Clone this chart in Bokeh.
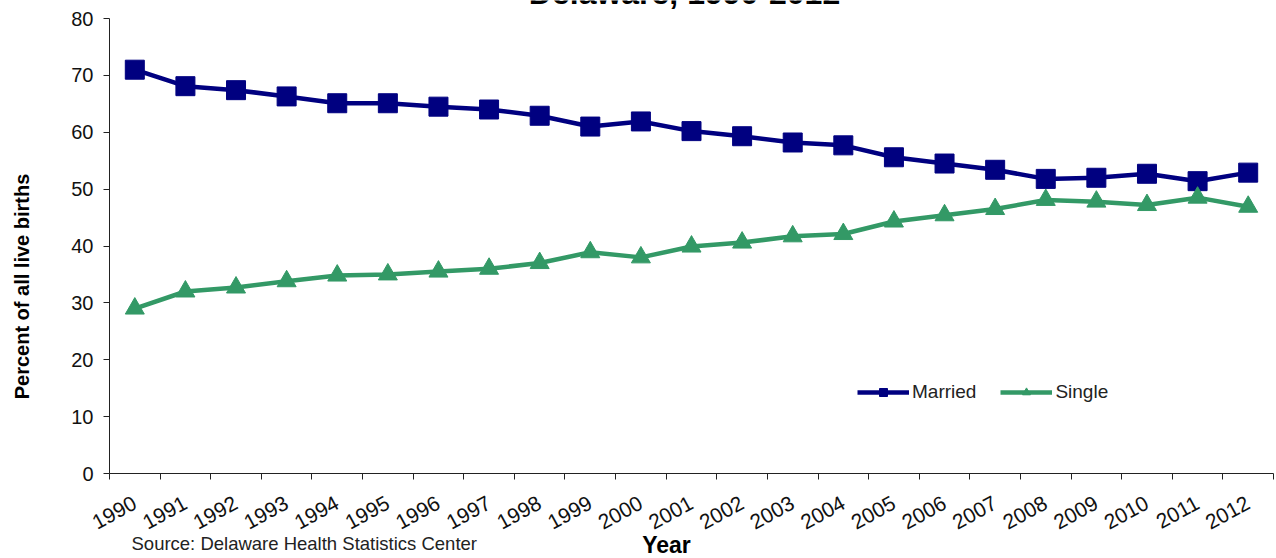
import numpy as np
from bokeh.plotting import figure
from bokeh.models import FixedTicker, Range1d, Label, Legend, LegendItem
from bokeh.embed import file_html
from bokeh.resources import INLINE

years = [str(y) for y in range(1990, 2013)]
married = [71.0, 68.1, 67.4, 66.3, 65.1, 65.1, 64.5, 64.0, 62.9, 61.0, 61.9, 60.2,
           59.3, 58.2, 57.7, 55.6, 54.5, 53.4, 51.8, 52.0, 52.7, 51.4, 52.9]
single = [29.0, 32.0, 32.7, 33.8, 34.8, 35.0, 35.5, 36.0, 37.0, 38.9, 38.0, 39.9,
          40.6, 41.7, 42.1, 44.3, 45.4, 46.5, 48.1, 47.8, 47.2, 48.5, 46.9]
yticks = [0, 10, 20, 30, 40, 50, 60, 70, 80]

n = len(years)
xs = np.arange(n) + 0.5

W, H = 1276, 558
# plot-area geometry (pixels in the canvas)
L, R, T, B = 109, 1273, 18, 473
kx = (R - L) / n
ky = (B - T) / 80.0

p = figure(width=W, height=H, output_backend="svg", toolbar_location=None,
           x_range=Range1d(-L / kx, n + (W - R) / kx),
           y_range=Range1d(-(H - B) / ky, 80 + T / ky),
           min_border_left=0, min_border_right=0, min_border_top=0, min_border_bottom=0)
p.margin = 0
p.outline_line_color = None
p.grid.visible = False
p.background_fill_color = "white"
p.border_fill_color = "white"

FONT = "Liberation Sans"

# x axis
p.xaxis.fixed_location = 0
p.xaxis.bounds = (0, n)
p.xaxis.ticker = FixedTicker(ticks=list(xs), minor_ticks=list(range(n + 1)))
p.xaxis.major_label_overrides = {float(x): y for x, y in zip(xs, years)}
p.xaxis.major_tick_out = 0
p.xaxis.major_tick_in = 0
p.xaxis.minor_tick_out = 6
p.xaxis.minor_tick_in = 0
p.xaxis.major_label_orientation = 0.5
p.xaxis.major_label_standoff = 22
p.xaxis.major_label_text_font = FONT
p.xaxis.major_label_text_font_size = "21px"
p.xaxis.major_label_text_color = "#111111"
p.xaxis.axis_line_color = "#222222"
p.xaxis.minor_tick_line_color = "#222222"

# y axis
p.yaxis.fixed_location = 0
p.yaxis.bounds = (0, 80)
p.yaxis.ticker = FixedTicker(ticks=yticks, minor_ticks=[])
p.yaxis.major_tick_out = 6
p.yaxis.major_tick_in = 0
p.yaxis.minor_tick_out = 0
p.yaxis.major_label_standoff = 10
p.yaxis.major_label_text_font = FONT
p.yaxis.major_label_text_font_size = "20px"
p.yaxis.major_label_text_color = "#111111"
p.yaxis.axis_line_color = "#222222"
p.yaxis.major_tick_line_color = "#222222"

NAVY = "#000080"
GREEN = "#339966"

l1 = p.line(xs, married, line_color=NAVY, line_width=4.5)
s1 = p.scatter(xs, married, marker="square", size=19, fill_color=NAVY, line_color=NAVY)
l2 = p.line(xs, single, line_color=GREEN, line_width=4.5)
s2 = p.scatter(xs, single, marker="triangle", size=19, fill_color=GREEN, line_color=GREEN)

legend = Legend(items=[LegendItem(label="Married", renderers=[l1, s1]),
                       LegendItem(label="Single", renderers=[l2, s2])],
                orientation="horizontal", location=(857, H - 403),
                border_line_color=None, background_fill_alpha=0,
                padding=0, margin=0, spacing=24, glyph_width=52, glyph_height=20,
                label_standoff=3, label_text_font=FONT, label_text_font_size="19px",
                label_text_color="#222222", label_height=20)
p.add_layout(legend, "center")

p.add_layout(Label(x=(684 - L) / kx, y=80 + (T - 10.5) / ky,
                   text="Delaware, 1990-2012", text_font=FONT,
                   text_font_size="32px", text_font_style="bold", text_align="center",
                   text_baseline="bottom", text_color="black"))
p.add_layout(Label(x=(21 - L) / kx, y=(B - 286) / ky,
                   text="Percent of all live births", angle=np.pi / 2,
                   text_font=FONT, text_font_size="20px", text_font_style="bold",
                   text_align="center", text_baseline="middle", text_color="black"))
p.add_layout(Label(x=(666 - L) / kx, y=(B - 544) / ky, text="Year", text_font=FONT,
                   text_font_size="23px", text_font_style="bold", text_align="center",
                   text_baseline="middle", text_color="black"))
p.add_layout(Label(x=(131 - L) / kx, y=(B - 543) / ky,
                   text="Source: Delaware Health Statistics Center",
                   text_font=FONT, text_font_size="18.5px", text_align="left",
                   text_baseline="middle", text_color="#222222"))

open("out.html", "w").write(file_html(p, INLINE))
